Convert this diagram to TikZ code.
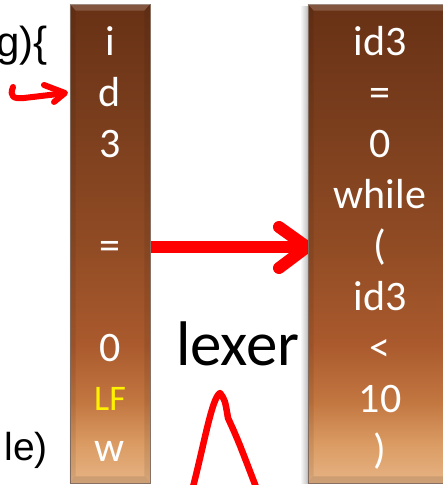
\documentclass[tikz,border=0pt]{standalone}
\usepackage{fontspec}
\setmainfont{Carlito}
\newfontfamily\arialfont{Liberation Sans}
\definecolor{cA}{HTML}{E6B384}
\definecolor{cB}{HTML}{DB9C64}
\definecolor{cC}{HTML}{C27640}
\definecolor{cD}{HTML}{AA5A2D}
\definecolor{cE}{HTML}{904B24}
\definecolor{cF}{HTML}{773C1C}
\definecolor{cG}{HTML}{683115}
\definecolor{barline}{HTML}{8C7466}
\pgfdeclareverticalshading{barshade}{100bp}{color(0bp)=(cA); color(25bp)=(cA); color(29bp)=(cB); color(33.5bp)=(cC); color(39.5bp)=(cD); color(50bp)=(cE); color(64.5bp)=(cF); color(75bp)=(cG); color(100bp)=(cG)}
\begin{document}
\begin{tikzpicture}[x=1pt,y=-1pt,
  bar/.style={rectangle, shading=barshade, draw=barline, line width=0.8pt, inner sep=0pt, minimum height=479pt},
  tok/.style={text=white, font=\fontsize{42}{42}\selectfont, anchor=base, inner sep=0pt},
  redline/.style={draw=red, line cap=round, line join=round}]
\useasboundingbox (0,0) rectangle (443,485);
\fill[white] (0,0) rectangle (443,485);
% side shadow of right bar
\shade[left color=white, right color=black!25] (300,6) rectangle (308,483);
% big arrow (drawn before the bars)
\coordinate (arrS) at (150,247);
\coordinate (arrT) at (307,247);
\draw[redline, line width=12pt] (arrS) -- (arrT);
\draw[redline, line width=12pt] (279,227) -- (arrT) -- (279,268);
% bars
\node[bar, minimum width=80pt] (leftbar) at (110,243.5) {};
\node[bar, minimum width=146pt] (rightbar) at (381,243.5) {};
% bevels
\foreach \b in {leftbar,rightbar}{
  \fill[white, opacity=0.18] (\b.north west) -- (\b.north east) -- ([xshift=-6pt,yshift=-7pt]\b.north east) -- ([xshift=6pt,yshift=-7pt]\b.north west) -- cycle;
  \fill[black, opacity=0.08] (\b.north west) -- ([xshift=6pt,yshift=-7pt]\b.north west) -- ([xshift=6pt,yshift=7pt]\b.south west) -- (\b.south west) -- cycle;
  \fill[black, opacity=0.08] (\b.north east) -- ([xshift=-6pt,yshift=-7pt]\b.north east) -- ([xshift=-6pt,yshift=7pt]\b.south east) -- (\b.south east) -- cycle;
  \fill[black, opacity=0.10] (\b.south west) -- (\b.south east) -- ([xshift=-6pt,yshift=7pt]\b.south east) -- ([xshift=6pt,yshift=7pt]\b.south west) -- cycle;
}
% left bar tokens
\node[tok] (l1) at (110,55) {i};
\node[tok] (l2) at (110,106) {d};
\node[tok] (l3) at (110,157) {3};
\node[tok] (l4) at (110,259) {=};
\node[tok] (l5) at (110,361) {0};
\node[tok, text=yellow, font=\fontsize{36}{36}\selectfont] (l6) at (110,410) {LF};
\node[tok] (l7) at (110,461) {w};
% right bar tokens
\node[tok] (r1) at (380,55) {id3};
\node[tok] (r2) at (380,106) {=};
\node[tok] (r3) at (380,157) {0};
\node[tok] (r4) at (380,208) {while};
\node[tok] (r5) at (380,259) {(};
\node[tok] (r6) at (380,310) {id3};
\node[tok] (r7) at (380,361) {<};
\node[tok] (r8) at (380,412) {10};
\node[tok] (r9) at (380,463) {)};
% lexer label
\node[anchor=base, inner sep=0pt, font=\fontsize{63}{63}\selectfont] (lexer) at (238,365) {lexer};
% code fragments
\node[anchor=base east, inner sep=0pt, font=\arialfont\fontsize{42}{42}\selectfont] (codetop) at (48,56) {g)\{};
\node[anchor=base east, inner sep=0pt, font=\arialfont\fontsize{39}{39}\selectfont] (codebot) at (48,460) {le)};
% hook arrow pointing at d
\coordinate (hkS) at (13,87);
\coordinate (hkT) at (65,93);
\draw[redline, line width=6pt] (hkS) .. controls (9,97) and (14,99) .. (24,98) -- (58,94);
\draw[redline, line width=6pt] (44,85) -- (hkT) -- (54,102);
% caret under lexer
\coordinate (cL) at (193,487);
\coordinate (cTop) at (220,393);
\coordinate (cR) at (256,487);
\draw[redline, line width=6.5pt] (cL) .. controls (205,440) and (212,398) .. (cTop) .. controls (225,400) .. (228,418) .. controls (238,440) .. (cR);
\end{tikzpicture}
\end{document}
